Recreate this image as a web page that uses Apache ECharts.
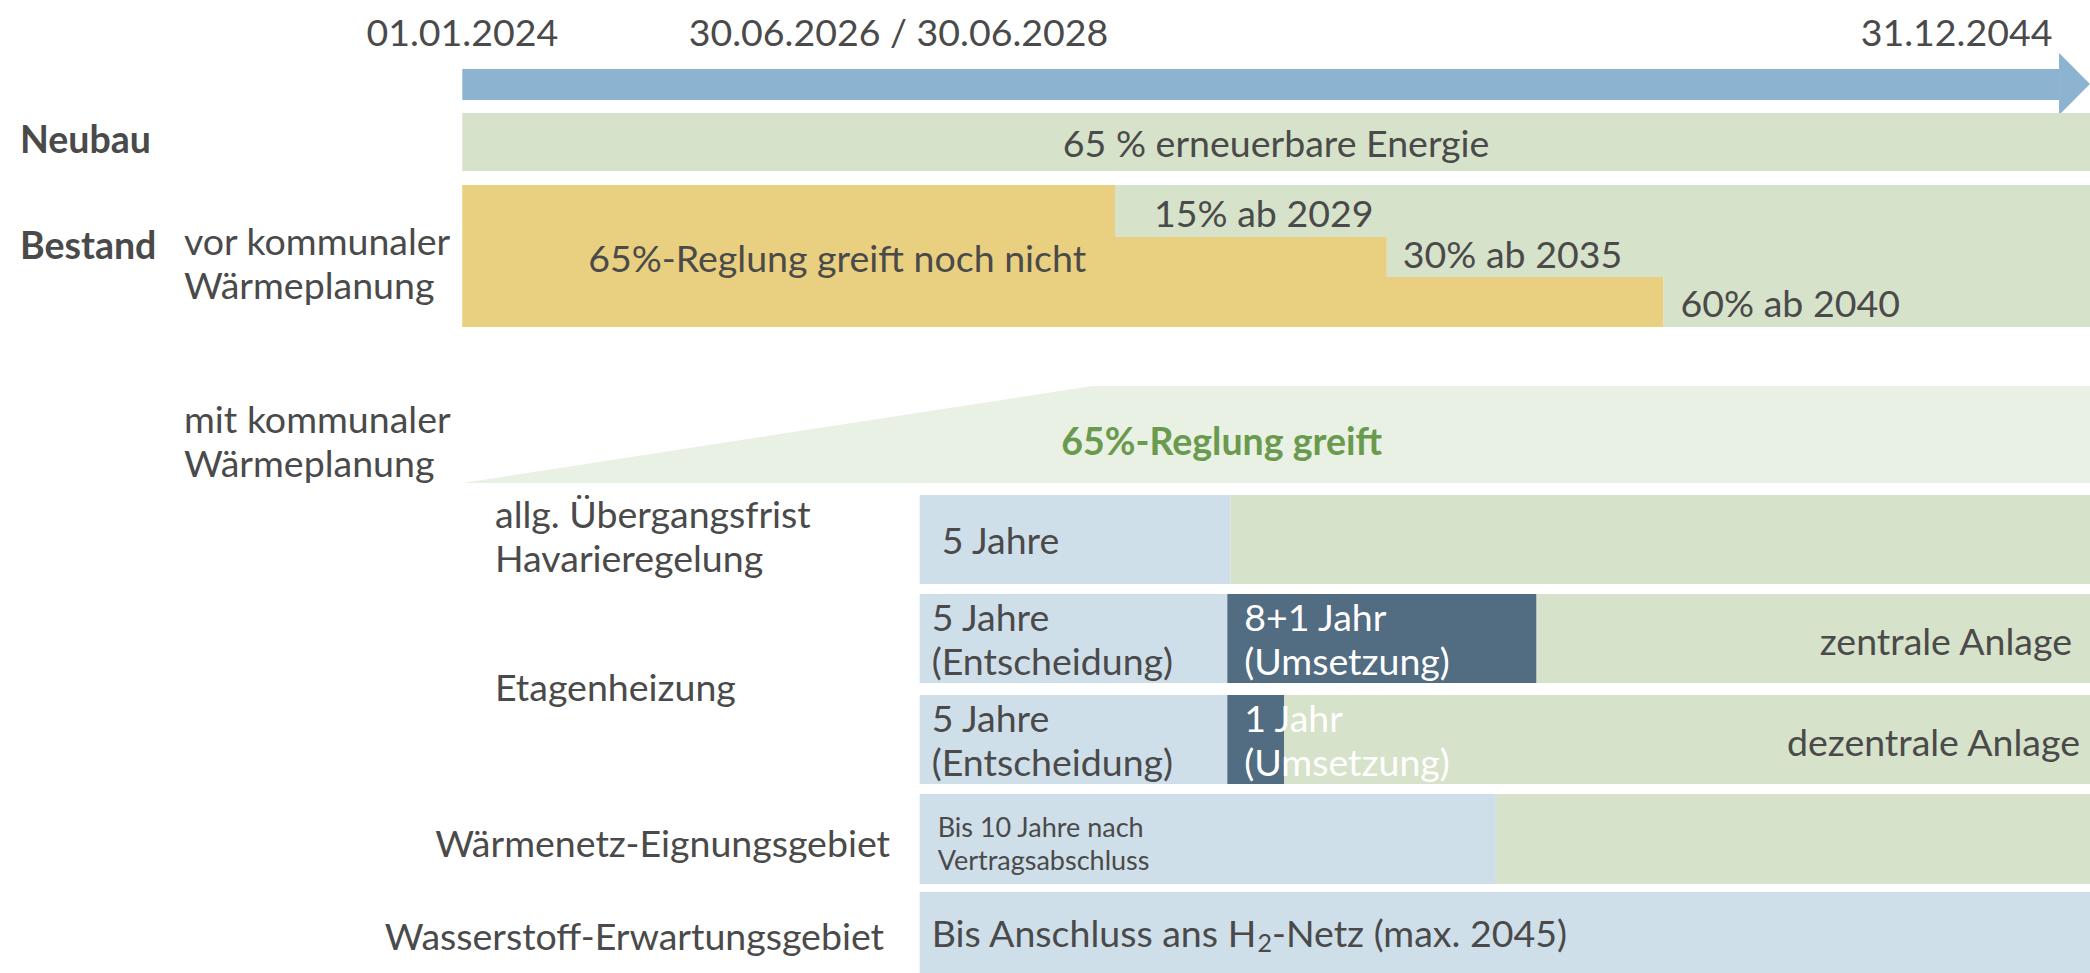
<!DOCTYPE html>
<html>
<head>
<meta charset="utf-8">
<script src="https://cdn.jsdelivr.net/npm/echarts@6/dist/echarts.min.js"></script>
<style>
	html, body { margin: 0; padding: 0; background: #fff; }
	#chart { width: 2090px; height: 973px; }
</style>
</head>
<body>
<div id="chart"></div>
<script>
// timeline in schematic units: 0 = 01.01.2024, 100 = right end of the bars
const dates = ['01.01.2024', '30.06.2026 / 30.06.2028', '31.12.2044'];
const datePos = [0, 26.8, 91.8];
const arrowEnd = 98.1;

const neubauText = '65 % erneuerbare Energie';

const bestandText = '65%-Reglung greift noch nicht';
const bestandSteps = [40.1, 56.8, 73.8];
const bestandLabels = ['15% ab 2029', '30% ab 2035', '60% ab 2040'];

const planungFull = 38.7;
const planungText = '65%-Reglung greift';

const rowStart = [28.1, 28.1, 28.1, 28.1, 28.1];
const rowFristEnd = [47.2, 47.0, 47.0, 63.5, 100];
const rowUmsetzungEnd = [null, 66.0, 50.5, null, null];
const rowFristText = ['5 Jahre', '5 Jahre\n(Entscheidung)', '5 Jahre\n(Entscheidung)', 'Bis 10 Jahre nach\nVertragsabschluss', 'Bis Anschluss ans H{sub|2}-Netz (max. 2045)'];
const rowUmsetzungText = [null, '8+1 Jahr\n(Umsetzung)', '1 Jahr\n(Umsetzung)', null, null];
const rowEndText = [null, 'zentrale Anlage', 'dezentrale Anlage', null, null];

const X_MIN = -28.4, X_MAX = 100;

( function() {

	const FONT = 'Lato, "Open Sans", sans-serif';
	const TXT = '#4a4a4a';
	const C = {
		arrow: '#8cb3cf',
		green: '#d6e2c9',
		yellow: '#e9cf80',
		pale: '#e9f0e4',
		blue: '#cfdfe9',
		dark: '#526c81',
		bold: '#6a9a4e'
	};

	// vertical layout (same units as the hidden y axis)
	const lanes = {
		arrow: [69, 100], head: [53, 115],
		neubau: [113, 171],
		bestand: [185, 237, 277, 327],
		planung: [386, 483],
		rows: [[495, 584], [594, 683], [695, 784], [794, 884], [892, 973]]
	};

	const marks = [];
	const rect = (x0, x1, y, color) => marks.push({ kind: 'rect', x0: x0, x1: x1, y0: y[0], y1: y[1], color: color });
	const text = (t, x, y, opt) => marks.push(Object.assign({ kind: 'text', text: t, x: x, y: y, dx: 0 }, opt || {}));

	// arrow
	rect(0, arrowEnd, lanes.arrow, C.arrow);
	const hy = lanes.head;
	marks.push({ kind: 'poly', color: C.arrow, points: [[arrowEnd, hy[0]], [X_MAX, (hy[0] + hy[1]) / 2], [arrowEnd, hy[1]]] });
	dates.forEach((d, i) => text(d, datePos[i], 31, { align: 'center' }));

	// Neubau
	rect(0, X_MAX, lanes.neubau, C.green);
	text(neubauText, (0 + X_MAX) / 2, 142, { align: 'center' });
	text('Neubau', X_MIN, 138, { dx: 20, bold: true });

	// Bestand, vor kommunaler Wärmeplanung
	const b = lanes.bestand;
	bestandSteps.forEach((s, i) => {
		rect(0, s, [b[i], b[i + 1]], C.yellow);
		rect(s, X_MAX, [b[i], b[i + 1]], C.green);
	});
	text(bestandText, 0, 257, { dx: 126 });
	const stepPad = [39, 16, 17], stepY = [212, 253, 302];
	bestandLabels.forEach((l, i) => text(l, bestandSteps[i], stepY[i], { dx: stepPad[i] }));
	text('Bestand', X_MIN, 244, { dx: 20, bold: true });
	text('vor kommunaler\nWärmeplanung', X_MIN, 262, { dx: 184 });

	// mit kommunaler Wärmeplanung
	const p = lanes.planung;
	marks.push({ kind: 'poly', color: C.pale, points: [[0, p[1]], [planungFull, p[0]], [X_MAX, p[0]], [X_MAX, p[1]]] });
	text(planungText, planungFull, 440, { dx: -31, bold: true, color: C.bold });
	text('mit kommunaler\nWärmeplanung', X_MIN, 440, { dx: 184 });

	// rows
	const fristPad = [22, 12, 12, 18, 12];
	lanes.rows.forEach((y, i) => {
		rect(rowStart[i], rowFristEnd[i], y, C.blue);
		let last = rowFristEnd[i];
		if (rowUmsetzungEnd[i] !== null) {
			rect(last, rowUmsetzungEnd[i], y, C.dark);
			last = rowUmsetzungEnd[i];
		}
		if (last < X_MAX) rect(last, X_MAX, y, C.green);
	});
	lanes.rows.forEach((y, i) => {
		const mid = (y[0] + y[1]) / 2;
		const small = i === 3;
		text(rowFristText[i], rowStart[i], mid + (small ? 4 : 0), { dx: fristPad[i], size: small ? 27 : undefined, lineHeight: small ? 33 : undefined, rich: i === 4 });
		if (rowUmsetzungText[i]) text(rowUmsetzungText[i], rowFristEnd[i], mid, { dx: 17, color: '#ffffff' });
		if (rowEndText[i]) text(rowEndText[i], X_MAX, mid + 2, { dx: i === 1 ? -18 : -10, align: 'right' });
	});
	text('allg. Übergangsfrist\nHavarieregelung', X_MIN, 535, { dx: 495 });
	text('Etagenheizung', X_MIN, 686, { dx: 495 });
	text('Wärmenetz-Eignungsgebiet', X_MIN, 842, { dx: 890, align: 'right' });
	text('Wasserstoff-Erwartungsgebiet', X_MIN, 935, { dx: 884, align: 'right' });

	const renderItem = function(params, api) {
		const m = marks[params.dataIndex];
		const pt = (x, y) => api.coord([x, y]);
		if (m.kind === 'rect') {
			const a = pt(m.x0, m.y0), c = pt(m.x1, m.y1);
			return { type: 'rect', shape: { x: a[0], y: a[1], width: c[0] - a[0], height: c[1] - a[1] }, style: { fill: m.color } };
		}
		if (m.kind === 'poly') {
			return { type: 'polygon', shape: { points: m.points.map(q => pt(q[0], q[1])) }, style: { fill: m.color } };
		}
		const q = pt(m.x, m.y);
		const size = m.size || 37.5;
		const style = {
			text: m.text,
			fill: m.color || TXT,
			fontFamily: FONT,
			fontSize: size,
			fontWeight: m.bold ? 'bold' : 'normal',
			lineHeight: m.lineHeight || 44,
			align: m.align || 'left',
			verticalAlign: 'middle'
		};
		if (m.rich) {
			style.rich = {
				sub: { fontFamily: FONT, fontSize: 25, fill: TXT, verticalAlign: 'bottom', lineHeight: 40 }
			};
		}
		return { type: 'text', x: q[0] + m.dx, y: q[1], style: style };
	};

	const chart = echarts.init(document.getElementById('chart'), null, { renderer: 'svg' });
	chart.setOption({
		animation: false,
		grid: { left: 0, right: 0, top: 0, bottom: 0 },
		xAxis: { type: 'value', min: X_MIN, max: X_MAX, show: false },
		yAxis: { type: 'value', min: 0, max: 973, inverse: true, show: false },
		series: [{
			type: 'custom',
			coordinateSystem: 'cartesian2d',
			clip: false,
			renderItem: renderItem,
			data: marks.map(m => [m.x !== undefined ? m.x : 0, 0])
		}]
	});

}() );
</script>
</body>
</html>
